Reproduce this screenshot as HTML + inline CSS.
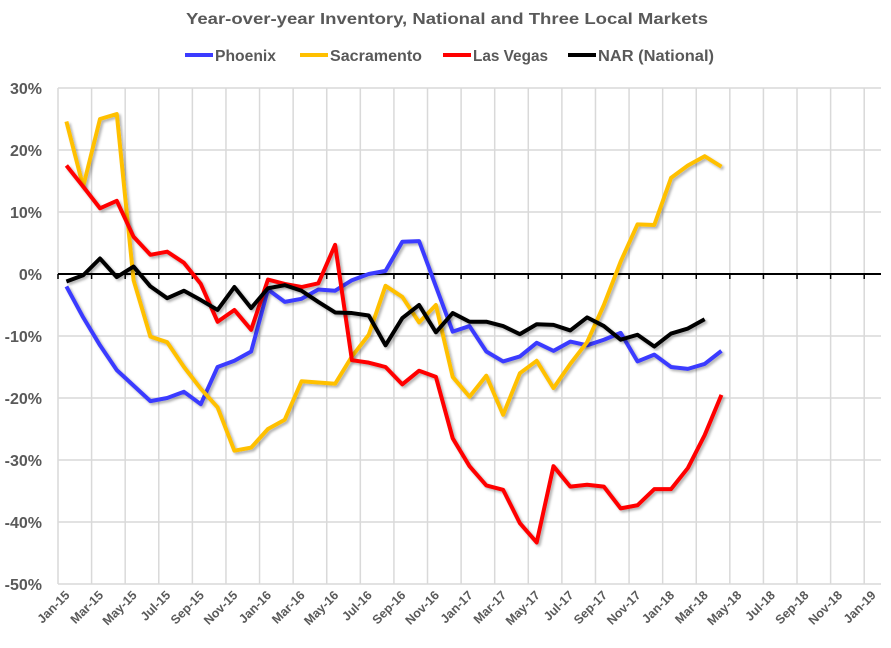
<!DOCTYPE html>
<html><head><meta charset="utf-8"><style>
html,body{margin:0;padding:0;background:#fff;}
svg{display:block;font-family:"Liberation Sans",Arial,sans-serif;}
</style></head><body>
<svg id="chart" width="891" height="648" viewBox="0 0 891 648">
<defs><filter id="sh" x="-5%" y="-5%" width="110%" height="110%"><feDropShadow dx="2" dy="2" stdDeviation="1.2" flood-color="#000" flood-opacity="0.3"/></filter></defs>
<text x="186" y="24" textLength="522" lengthAdjust="spacingAndGlyphs" font-size="16" font-weight="bold" fill="#595959">Year-over-year Inventory, National and Three Local Markets</text>
<g id="legend"></g>
<g id="grid"></g><g id="axes"></g><g id="series"></g>
</svg>
<script>
const categories=["Jan-15","Feb-15","Mar-15","Apr-15","May-15","Jun-15","Jul-15","Aug-15","Sep-15","Oct-15","Nov-15","Dec-15","Jan-16","Feb-16","Mar-16","Apr-16","May-16","Jun-16","Jul-16","Aug-16","Sep-16","Oct-16","Nov-16","Dec-16","Jan-17","Feb-17","Mar-17","Apr-17","May-17","Jun-17","Jul-17","Aug-17","Sep-17","Oct-17","Nov-17","Dec-17","Jan-18","Feb-18","Mar-18","Apr-18","May-18","Jun-18","Jul-18","Aug-18","Sep-18","Oct-18","Nov-18","Dec-18","Jan-19"];
const phoenix=[-2,-7,-11.5,-15.5,-18,-20.5,-20,-19,-21,-15,-14,-12.5,-2.5,-4.5,-4,-2.5,-2.7,-1,0,0.5,5.2,5.3,-2,-9.3,-8.4,-12.5,-14.1,-13.3,-11.1,-12.4,-10.9,-11.5,-10.6,-9.5,-14.1,-13,-15,-15.3,-14.5,-12.4];
const sacramento=[24.6,14.1,25,25.8,-1,-10.1,-11,-15,-18.5,-21.5,-28.5,-28,-25,-23.5,-17.3,-17.5,-17.7,-13.3,-9.8,-1.9,-3.7,-7.8,-5,-16.6,-19.8,-16.4,-22.7,-16,-14,-18.4,-14.5,-11,-5,2,8,7.9,15.5,17.5,19,17.3];
const lasVegas=[17.5,14.1,10.6,11.8,6,3.1,3.6,1.8,-1.6,-7.7,-5.8,-9,-0.9,-1.6,-2.1,-1.5,4.7,-13.9,-14.3,-15,-17.8,-15.6,-16.6,-26.5,-31,-34.1,-34.8,-40.2,-43.3,-31,-34.3,-34,-34.3,-37.8,-37.3,-34.7,-34.7,-31.3,-26,-19.5];
const nar=[-1.2,-0.2,2.5,-0.5,1.2,-2,-3.9,-2.7,-4.2,-5.8,-2.1,-5.5,-2.3,-1.8,-2.7,-4.5,-6.2,-6.3,-6.7,-11.5,-7.1,-5,-9.4,-6.3,-7.7,-7.7,-8.4,-9.7,-8.1,-8.2,-9.1,-7,-8.4,-10.6,-9.8,-11.7,-9.6,-8.8,-7.3];
const yTicks=[30,20,10,0,-10,-20,-30,-40,-50];
const seriesNames=["Phoenix","Sacramento","Las Vegas","NAR (National)"];
const seriesColors=["#3b3bff","#ffc000","#ff0000","#000000"];
const seriesData=[phoenix,sacramento,lasVegas,nar];

const L=58,R=881,T=88,B=584,NS="http://www.w3.org/2000/svg";
const step=(R-L)/categories.length;
const xs=i=>L+step*(i+0.5);
const ys=v=>T+(30-v)/80*(B-T);
function mk(tag,attrs,parent){const e=document.createElementNS(NS,tag);for(const k in attrs)e.setAttribute(k,attrs[k]);parent.appendChild(e);return e;}
const grid=document.getElementById('grid'),axes=document.getElementById('axes'),ser=document.getElementById('series'),leg=document.getElementById('legend');
yTicks.forEach(t=>{
  const ln=mk('line',{x1:L,x2:R,y1:ys(t),y2:ys(t),stroke:'#d9d9d9','stroke-width':1.5},grid);
  
  
  const tx=mk('text',{x:42,y:ys(t)+6,'text-anchor':'end','font-size':16,'font-weight':'bold',fill:'#595959'},axes);
  tx.textContent=t+'%';
  
  
});
for(let i=0;i<=categories.length;i+=2){
  const x=L+step*i;
  const g=mk('line',{x1:x,x2:x,y1:T,y2:B,stroke:'#d9d9d9','stroke-width':1.5},grid);
  
  
  const tk=mk('line',{x1:x,x2:x,y1:ys(0),y2:ys(0)+5,stroke:'#000','stroke-width':1.5},axes);
  
  
}
categories.forEach((c,i)=>{
  if(i%2)return;
  const x=xs(i)+4,y=596;
  const t=mk('text',{x:x,y:y,'text-anchor':'end','font-size':12.5,'font-weight':'bold',fill:'#595959',transform:`rotate(-45 ${x} ${y})`},axes);
  t.textContent=c;
  
  
});
const z=mk('line',{x1:L,x2:R,y1:ys(0),y2:ys(0),stroke:'#000','stroke-width':2},axes);


seriesData.forEach((d,s)=>{
  const p=mk('polyline',{points:d.map((v,i)=>xs(i)+','+ys(v)).join(' '),fill:'none',stroke:seriesColors[s],'stroke-width':4,'stroke-linejoin':'round',filter:'url(#sh)'},ser);
  
  
});
const legX=[185,300,443,568];
const legW=[61,92,75,116];
seriesNames.forEach((n,s)=>{
  const g=mk('g',{},leg);
  
  
  mk('line',{x1:legX[s],x2:legX[s]+28,y1:55,y2:55,stroke:seriesColors[s],'stroke-width':4},g);
  const t=mk('text',{x:legX[s]+30,y:61,'font-size':16,'font-weight':'bold',fill:'#595959',textLength:legW[s],lengthAdjust:'spacingAndGlyphs'},g);
  t.textContent=n;
});
</script>
</body></html>
